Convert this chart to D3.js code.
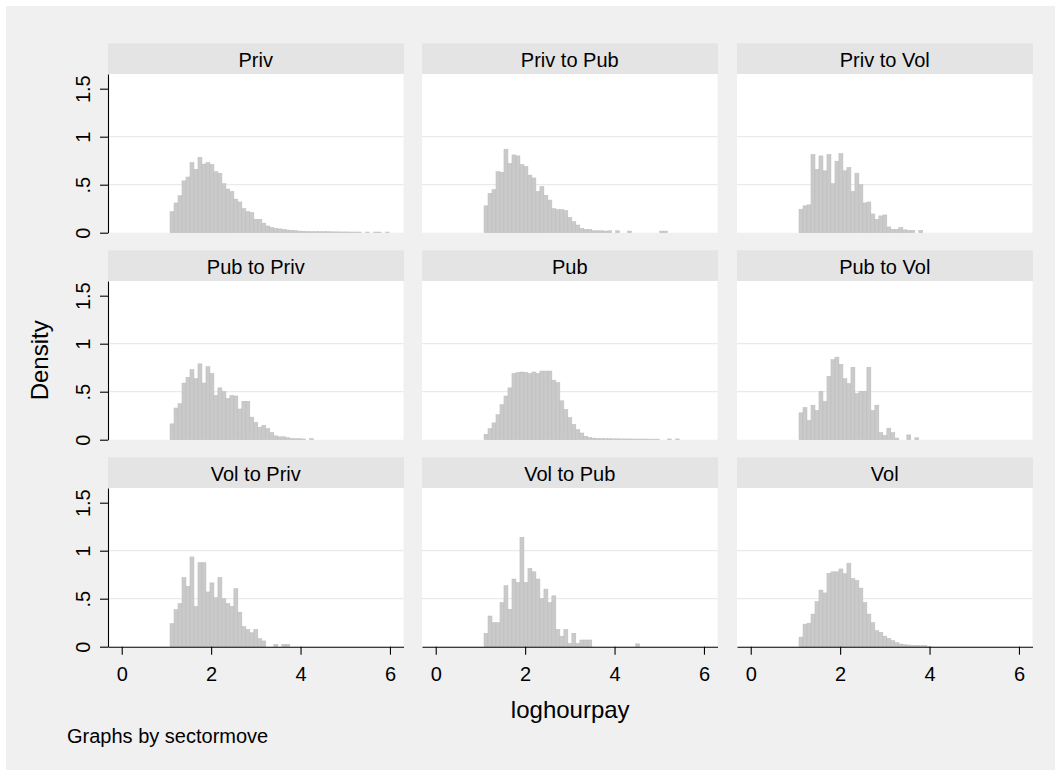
<!DOCTYPE html>
<html>
<head>
<meta charset="utf-8">
<script src="https://cdn.jsdelivr.net/npm/d3@7"></script>
<style>
  html, body { margin: 0; padding: 0; background: #ffffff; }
  svg { display: block; font-family: "Liberation Sans", Arial, sans-serif; }
</style>
</head>
<body>
<svg id="chart" width="1061" height="776"></svg>
<script>
// Panels (sectormove groups), in reading order
const sectors = [
  "Priv", "Priv to Pub", "Priv to Vol",
  "Pub to Priv", "Pub", "Pub to Vol",
  "Vol to Priv", "Vol to Pub", "Vol"
];

// Histogram bins shared by every panel: start and width on loghourpay
const binStart = 1.08;
const binWidth = 0.0893;

// Density per bin, one array per panel
const densPriv = [0.22,0.31,0.385,0.54,0.58,0.73,0.66,0.785,0.715,0.73,0.71,0.635,0.62,0.51,0.455,0.43,0.35,0.32,0.25,0.22,0.21,0.14,0.14,0.10,0.07,0.055,0.045,0.04,0.035,0.028,0.025,0.02,0.017,0.015,0.013,0.012,0.011,0.011,0.01,0.01,0.009,0.009,0.008,0.008,0.008,0.007,0.007,0.007,0,0.007,0,0.007,0.007,0,0.007];
const densPrivToPub = [0.28,0.41,0.45,0.635,0.63,0.87,0.72,0.81,0.80,0.71,0.69,0.60,0.57,0.43,0.48,0.39,0.34,0.25,0.24,0.24,0.23,0.16,0.115,0.08,0.045,0.035,0.035,0.02,0.02,0.02,0.017,0.02,0,0.02,0,0,0.017,0,0,0,0,0,0,0,0.017,0.017];
const densPrivToVol = [0.245,0.28,0.29,0.815,0.66,0.80,0.645,0.815,0.51,0.745,0.825,0.645,0.68,0.43,0.62,0.50,0.31,0.32,0.195,0.14,0.175,0.185,0.06,0.035,0.035,0.055,0.03,0.025,0.025,0,0.025];
const densPubToPriv = [0.165,0.33,0.375,0.59,0.65,0.73,0.635,0.79,0.59,0.76,0.69,0.46,0.54,0.50,0.43,0.46,0.455,0.32,0.40,0.40,0.235,0.18,0.13,0.15,0.115,0.075,0.04,0.03,0.03,0.02,0.012,0.01,0.01,0.008,0,0.01];
const densPub = [0.057,0.115,0.175,0.26,0.365,0.455,0.54,0.69,0.70,0.705,0.70,0.69,0.705,0.69,0.715,0.715,0.715,0.62,0.595,0.405,0.315,0.23,0.16,0.105,0.07,0.036,0.023,0.016,0.012,0.011,0.01,0.01,0.009,0.009,0.008,0.008,0.008,0.007,0.007,0.007,0.007,0.006,0.006,0.006,0,0,0.008,0,0.008];
const densPubToVol = [0.28,0.335,0.20,0.36,0.305,0.505,0.40,0.66,0.835,0.86,0.785,0.635,0.585,0.755,0.48,0.505,0.505,0.755,0.305,0.36,0.075,0.045,0.12,0.075,0.017,0,0,0.05,0,0.02];
const densVolToPriv = [0.24,0.385,0.45,0.72,0.63,0.935,0.42,0.875,0.875,0.57,0.665,0.51,0.72,0.50,0.45,0.42,0.605,0.36,0.21,0.18,0.145,0.18,0.083,0.06,0,0,0.025,0,0.025,0.025];
const densVolToPub = [0.14,0.32,0.25,0.25,0.46,0.635,0.39,0.705,0.67,1.14,0.67,0.815,0.78,0.705,0.50,0.60,0.46,0.53,0.18,0.11,0.18,0.035,0.14,0.035,0.07,0.07,0.07,0,0,0,0,0,0,0,0,0,0,0,0.03];
const densVol = [0.10,0.235,0.245,0.34,0.47,0.59,0.56,0.765,0.78,0.78,0.81,0.76,0.87,0.71,0.69,0.61,0.46,0.34,0.25,0.167,0.15,0.11,0.087,0.063,0.042,0.028,0.02,0.017,0.013,0.013,0.01,0.013,0.005];

const panelDensities = [
  densPriv, densPrivToPub, densPrivToVol,
  densPubToPriv, densPub, densPubToVol,
  densVolToPriv, densVolToPub, densVol
];

// Axis ticks
const yTickValues = [0, 0.5, 1, 1.5];
const yTickLabels = ["0", ".5", "1", "1.5"];
const yGridValues = [0.5, 1];
const xTickValues = [0, 2, 4, 6];
const xTickLabels = ["0", "2", "4", "6"];

const xTitle = "loghourpay";
const yTitle = "Density";
const note = "Graphs by sectormove";

// Layout
const W = 1061, H = 776;
const colLeft = [108, 422, 737];
const rowTop = [74, 281, 488];
const plotW = 295.5;
const plotH = 158.7;
const stripH = 30.7;

const svg = d3.select("#chart");

svg.append("rect").attr("x", 0).attr("y", 0).attr("width", W).attr("height", H).attr("fill", "#ffffff");
svg.append("rect").attr("x", 6).attr("y", 6).attr("width", W - 12).attr("height", H - 12).attr("fill", "#f0f0f0");

const x = d3.scaleLinear().domain([-0.307, 6.303]).range([0, plotW]);
const y = d3.scaleLinear().domain([0, 1.653]).range([plotH, 0]);

sectors.forEach((name, k) => {
  const r = Math.floor(k / 3), c = k % 3;
  const g = svg.append("g").attr("transform", `translate(${colLeft[c]},${rowTop[r]})`);

  // strip title
  g.append("rect")
    .attr("x", 0).attr("y", -stripH)
    .attr("width", plotW + 0.5).attr("height", stripH)
    .attr("fill", "#e4e4e4");
  g.append("text")
    .attr("x", plotW / 2).attr("y", -7.3)
    .attr("text-anchor", "middle")
    .attr("font-size", 20)
    .attr("fill", "#000")
    .text(name);

  // plot region
  g.append("rect")
    .attr("x", 0).attr("y", 0)
    .attr("width", plotW).attr("height", plotH)
    .attr("fill", "#ffffff");

  // gridlines
  g.selectAll("line.grid").data(yGridValues).join("line")
    .attr("class", "grid")
    .attr("x1", 0).attr("x2", plotW)
    .attr("y1", d => y(d)).attr("y2", d => y(d))
    .attr("stroke", "#eaeaea").attr("stroke-width", 1.3);

  // histogram bars
  const bins = panelDensities[k]
    .map((v, i) => ({ x0: binStart + i * binWidth, x1: binStart + (i + 1) * binWidth, v }))
    .filter(d => d.v > 0);
  g.selectAll("rect.bar").data(bins).join("rect")
    .attr("class", "bar")
    .attr("x", d => x(d.x0))
    .attr("width", d => x(d.x1) - x(d.x0))
    .attr("y", d => y(d.v))
    .attr("height", d => plotH - y(d.v))
    .attr("fill", "#cacaca")
    .attr("stroke", "#bcbcbc")
    .attr("stroke-width", 0.5);

  // y axis on first column
  if (c === 0) {
    const ya = g.append("g").call(
      d3.axisLeft(y).tickValues(yTickValues).tickSize(8).tickSizeOuter(0)
        .tickFormat((d, i) => yTickLabels[i])
    );
    ya.select(".domain").attr("stroke", "#000").attr("stroke-width", 1.1);
    ya.selectAll(".tick line").attr("stroke", "#000").attr("stroke-width", 1.1);
    ya.selectAll(".tick text")
      .attr("x", null).attr("dy", null)
      .attr("transform", "translate(-18,0) rotate(-90)")
      .attr("text-anchor", "middle")
      .attr("font-size", 20)
      .attr("font-family", "Liberation Sans, Arial, sans-serif")
      .attr("fill", "#000");
  }

  // x axis on bottom row
  if (r === 2) {
    const xa = g.append("g").attr("transform", `translate(0,${plotH})`).call(
      d3.axisBottom(x).tickValues(xTickValues).tickSize(8).tickSizeOuter(0)
        .tickFormat((d, i) => xTickLabels[i])
    );
    xa.select(".domain").attr("stroke", "#000").attr("stroke-width", 1.1);
    xa.selectAll(".tick line").attr("stroke", "#000").attr("stroke-width", 1.1);
    xa.selectAll(".tick text")
      .attr("y", 34).attr("dy", null)
      .attr("font-size", 20)
      .attr("font-family", "Liberation Sans, Arial, sans-serif")
      .attr("fill", "#000");
  }
});

// axis titles and note
svg.append("text")
  .attr("transform", `translate(48,${rowTop[0] + (rowTop[2] + plotH - rowTop[0]) / 2}) rotate(-90)`)
  .attr("text-anchor", "middle")
  .attr("font-size", 24)
  .text(yTitle);

svg.append("text")
  .attr("x", (colLeft[0] + colLeft[2] + plotW) / 2)
  .attr("y", 718)
  .attr("text-anchor", "middle")
  .attr("font-size", 24)
  .text(xTitle);

svg.append("text")
  .attr("x", 67).attr("y", 743)
  .attr("font-size", 20)
  .text(note);
</script>
</body>
</html>
